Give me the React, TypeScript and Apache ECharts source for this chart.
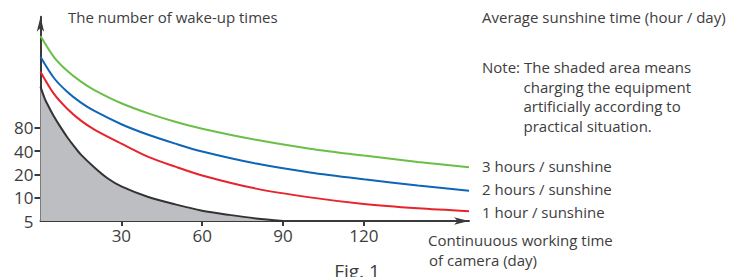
import React, { useEffect, useRef } from "react";
import * as echarts from "echarts";

const days = [0, 5, 10, 15, 20, 30, 40, 50, 60, 80, 100, 120, 140, 159];
const hours3 = [1228, 657, 433, 316, 246, 166, 123, 96, 78, 56, 43, 35, 29, 24.7];
const hours2 = [663, 352, 232, 169, 132, 89, 65, 50, 39.5, 27.6, 21.2, 17.3, 14.4, 12.3];
const hours1 = [425, 219, 140, 99, 76, 50, 33.7, 25.2, 19.4, 13.1, 10.1, 8.3, 7.3, 6.7];
const shadedDays = [0, 1.5, 3, 5, 7.5, 10, 12.5, 15, 20, 25, 30, 40, 50, 60, 70, 80, 90];
const shadedVals = [272, 194, 151, 112, 81, 60, 46, 36, 24.6, 17.7, 14, 10.2, 8.2, 6.8, 6, 5.4, 5];
const xTicks = [30, 60, 90, 120];
const yTickVals = [10, 20, 40, 80];
const yLabelVals = [5, 10, 20, 40, 80];
const seriesNames = ["3 hours / sunshine", "2 hours / sunshine", "1 hour / sunshine"];
const noteLines = ["charging the equipment", "artificially according to", "practical situation."];

const FONT = '"Open Sans", "Noto Sans", sans-serif';
const TXT = "#3d3d3d";
const AX = "#3a3a3a";

export default function App() {
  const ref = useRef<HTMLDivElement>(null);
  useEffect(() => {
    if (!ref.current) return;
    const chart = echarts.init(ref.current, undefined, { renderer: "svg" });
    const zip = (xs: number[], ys: number[]) => xs.map((x, i) => [x, ys[i]]);
    const lineSeries = (name: string, data: number[], color: string) => ({
      type: "line",
      name,
      data: zip(days, data),
      smooth: 0.3,
      showSymbol: false,
      lineStyle: { color, width: 2 },
      itemStyle: { color },
      z: 3,
    });
    const txt = (text: string, x: number, y: number, size = 15, align = "left", va = "middle") => ({
      type: "text",
      x,
      y,
      style: { text, fill: TXT, fontSize: size, fontFamily: FONT, align, verticalAlign: va },
    });
    chart.setOption({
      animation: false,
      grid: { left: 40.5, right: 274, top: 16.8, bottom: 56 },
      xAxis: {
        type: "value",
        min: 0,
        max: 159,
        axisLine: { show: true, symbol: ["none", "arrow"], symbolSize: [5.5, 15], lineStyle: { color: AX, width: 2 } },
        axisTick: { show: true, customValues: xTicks, length: 5, lineStyle: { color: AX, width: 2 } },
        axisLabel: { customValues: xTicks, fontSize: 17, color: TXT, fontFamily: FONT, margin: 6 },
        splitLine: { show: false },
      },
      yAxis: {
        type: "log",
        logBase: 2,
        min: 5,
        max: 2174,
        axisLine: { show: true, onZero: false, symbol: ["none", "arrow"], symbolSize: [5.5, 15], lineStyle: { color: AX, width: 2 } },
        axisTick: { show: true, customValues: yTickVals, length: 6, lineStyle: { color: AX, width: 2 } },
        axisLabel: { customValues: yLabelVals, fontSize: 17, color: TXT, fontFamily: FONT, margin: 7 },
        splitLine: { show: false },
      },
      series: [
        {
          type: "line",
          name: "shaded",
          data: zip(shadedDays, shadedVals),
          smooth: 0.3,
          showSymbol: false,
          lineStyle: { color: "#333333", width: 2 },
          areaStyle: { color: "#bdbec2", opacity: 1, origin: "start" },
          z: 2,
        },
        lineSeries(seriesNames[0], hours3, "#6bbf47"),
        lineSeries(seriesNames[1], hours2, "#0f65b7"),
        lineSeries(seriesNames[2], hours1, "#e8232b"),
      ],
      graphic: [
        txt("The number of wake-up times", 68, 17),
        txt("Average sunshine time (hour / day)", 482, 17),
        txt("Note: The shaded area means", 482, 67),
        txt(noteLines[0], 523.5, 86.5),
        txt(noteLines[1], 523.5, 106),
        txt(noteLines[2], 523.5, 125.5),
        txt(seriesNames[0], 482, 166),
        txt(seriesNames[1], 482, 189),
        txt(seriesNames[2], 482, 211.5),
        txt("Continuuous working time", 428, 240),
        txt("of camera (day)", 429, 260),
        txt("Fig. 1", 357, 261, 19, "center", "top"),
      ],
    });
    return () => chart.dispose();
  }, []);
  return <div ref={ref} style={{ position: "fixed", left: 0, top: 0, width: 743, height: 277, background: "#fff" }} />;
}
